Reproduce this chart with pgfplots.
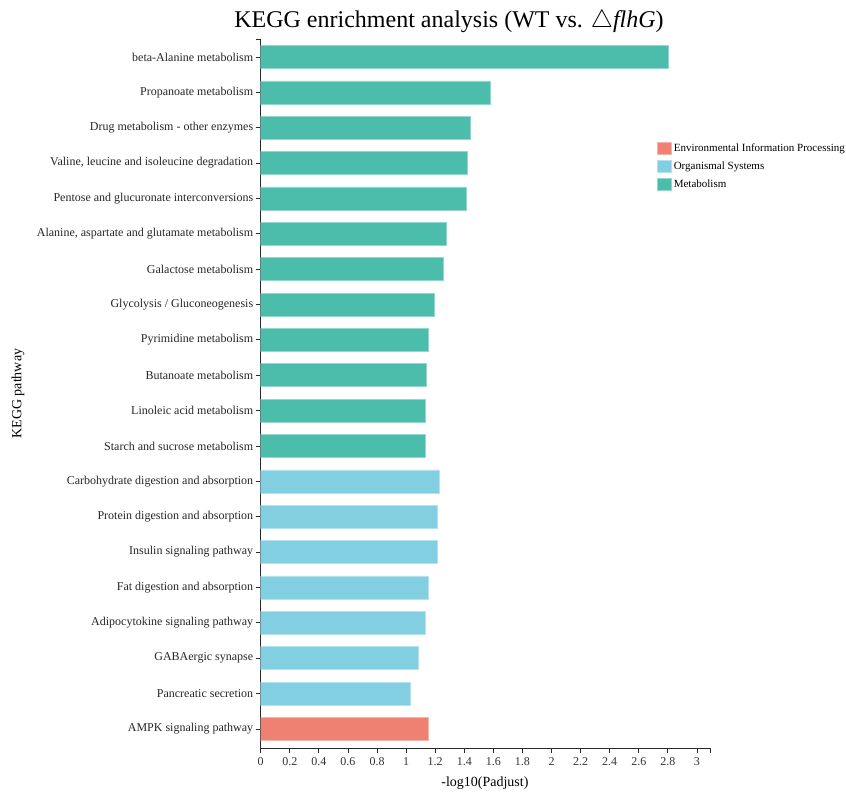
\documentclass[border=0pt]{standalone}
\usepackage{pgfplots}
\pgfplotsset{compat=1.18}
\usepackage{fontspec}
\setmainfont{Liberation Serif}
\definecolor{cRed}{RGB}{238,129,114}
\definecolor{cBlue}{RGB}{130,207,226}
\definecolor{cGreen}{RGB}{77,189,171}
\definecolor{axc}{RGB}{40,40,40}
\begin{document}
\begin{tikzpicture}
\useasboundingbox (0,0) rectangle (846pt,792pt);
\node[font=\fontsize{24}{28}\selectfont] at (449pt,771pt) {KEGG enrichment analysis (WT vs. $\triangle$\textit{flhG})};
\begin{axis}[
  at={(260.7pt,44pt)}, anchor=south west,
  scale only axis, width=449.3pt, height=708.7pt,
  xmin=0, xmax=3.09, ymin=-0.54, ymax=19.5,
  axis x line*=bottom, axis y line*=left,
  axis line style={axc, line width=0.8pt},
  tick style={axc, line width=0.8pt},
  tick align=outside, major tick length=5pt,
  xtick={0,0.2,...,3.01},
  extra x ticks={3.09}, extra x tick labels={},
  extra y ticks={19.5}, extra y tick labels={},
  xticklabel style={font=\fontsize{12}{14}\selectfont, text=black!80, yshift=-1pt},
  /pgf/number format/assume math mode=true,
  /pgf/number format/fixed,
  ytick={0,...,19},
  yticklabels={AMPK signaling pathway,Pancreatic secretion,GABAergic synapse,Adipocytokine signaling pathway,Fat digestion and absorption,Insulin signaling pathway,Protein digestion and absorption,Carbohydrate digestion and absorption,Starch and sucrose metabolism,Linoleic acid metabolism,Butanoate metabolism,Pyrimidine metabolism,Glycolysis / Gluconeogenesis,Galactose metabolism,{Alanine, aspartate and glutamate metabolism},Pentose and glucuronate interconversions,{Valine, leucine and isoleucine degradation},Drug metabolism - other enzymes,Propanoate metabolism,beta-Alanine metabolism},
  yticklabel style={font=\fontsize{12}{14}\selectfont, text=black!85, xshift=1pt},
  xlabel={-log10(Padjust)},
  ylabel={KEGG pathway},
  xlabel style={font=\fontsize{14}{16}\selectfont, at={(axis description cs:0.499,-0.049)}, anchor=center},
  ylabel style={font=\fontsize{14}{16}\selectfont, at={(axis description cs:-0.540,0.5)}, anchor=center, rotate=0},
  xbar, bar width=23pt, bar shift=0pt,
  legend style={draw=none, fill=none, at={(rel axis cs:0.882,0.856)}, anchor=north west,
    font=\fontsize{11}{13}\selectfont, row sep=5pt, inner sep=0pt,
    cells={anchor=west}},
  legend image code/.code={\fill[#1] (0pt,-6pt) rectangle (14pt,6pt);},
]
\addplot[fill=cRed, draw=cRed!60!white, line width=0.6pt] coordinates {(1.150,0)};
\addplot[fill=cBlue, draw=cBlue!60!white, line width=0.6pt] coordinates {(1.031,1) (1.086,2) (1.131,3) (1.152,4) (1.212,5) (1.212,6) (1.225,7)};
\addplot[fill=cGreen, draw=cGreen!60!white, line width=0.6pt] coordinates {(1.131,8) (1.131,9) (1.138,10) (1.155,11) (1.193,12) (1.253,13) (1.276,14) (1.413,15) (1.418,16) (1.441,17) (1.578,18) (2.806,19)};
\legend{Environmental Information Processing, Organismal Systems, Metabolism}
\end{axis}
\end{tikzpicture}
\end{document}
